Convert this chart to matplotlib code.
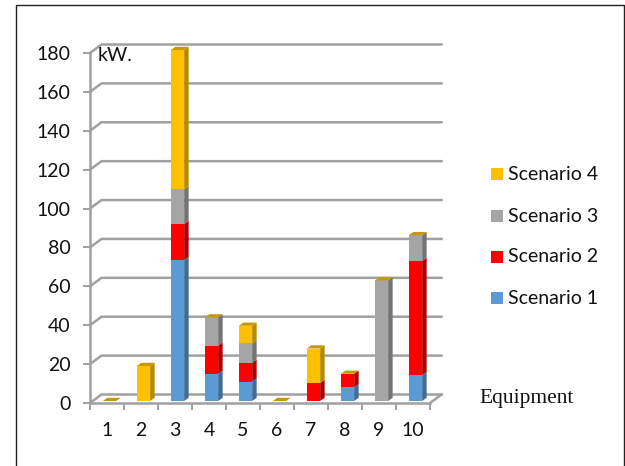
# Stacked pseudo-3D column chart: power per equipment for four scenarios

import matplotlib
matplotlib.use('Agg')
import matplotlib.pyplot as plt
from matplotlib.lines import Line2D
from matplotlib.patches import Polygon, Rectangle

plt.rcParams['font.family'] = ['Lato', 'DejaVu Sans']

# -------------------------------------------------------------
# DATA
# -------------------------------------------------------------
equipment = [1, 2, 3, 4, 5, 6, 7, 8, 9, 10]
scenario_1 = [0, 0, 72.5, 14, 10, 0, 0, 7, 0, 13.3]
scenario_2 = [0, 0, 18.5, 14.5, 9.7, 0, 9.3, 7, 0, 58.7]
scenario_3 = [0, 0, 18, 14.5, 10, 0, 0, 0, 62, 13.3]
scenario_4 = [0, 18, 71.5, 0, 9, 0, 17.7, 0, 0, 0]
y_ticks = [0, 20, 40, 60, 80, 100, 120, 140, 160, 180]

series = [scenario_1, scenario_2, scenario_3, scenario_4]
names = ['Scenario 1', 'Scenario 2', 'Scenario 3', 'Scenario 4']
colors = ['#5b9bd5', '#ff0000', '#a5a5a5', '#ffc000']
side_colors = ['#3e6d96', '#b00000', '#747474', '#b88a00']
top_color = '#c99700'
grid_color = '#a0a0a0'
text_color = '#111111'
font_size = 14

W, H = 625, 466
fig = plt.figure(figsize=(W / 100, H / 100), dpi=100)

# axes box is the front plane of the fake 3D plot, in pixels
left, right, top, bottom = 90, 430, 53, 403
ax = fig.add_axes([left / W, 1 - bottom / H, (right - left) / W, (bottom - top) / H])
ax.set_xlim(0.5, 10.5)
ax.set_ylim(0, 180)
ax.patch.set_alpha(0)

# pixel -> data unit helpers for the depth offsets
px_x = 10 / (right - left)
px_y = 180 / (bottom - top)

# -------------------------------------------------------------
# WALLS AND GRID
# -------------------------------------------------------------
back_dx, back_dy = 11.5 * px_x, 8.5 * px_y
for v in y_ticks:
    ax.plot([0.5, 0.5 + back_dx, 10.5 + back_dx], [v, v + back_dy, v + back_dy],
            color=grid_color, lw=1.8, clip_on=False, zorder=1, solid_joinstyle='miter')
ax.plot([10.5, 10.5 + back_dx], [0, back_dy], color=grid_color, lw=1.8,
        clip_on=False, zorder=1)

# -------------------------------------------------------------
# BARS
# -------------------------------------------------------------
bar_w = 13.3 * px_x
off_x, off_y = 2.5 * px_x, 2 * px_y
depth_x, depth_y = 4.5 * px_x, 3.2 * px_y

base = [off_y] * len(equipment)
for s, c, sc in zip(series, colors, side_colors):
    xs = [e + off_x for e in equipment]
    ax.bar(xs, s, width=bar_w, bottom=base, color=c, linewidth=0, zorder=3, clip_on=False)
    for x, b, v in zip(xs, base, s):
        if v > 0:
            xr = x + bar_w / 2
            ax.add_patch(Polygon([(xr, b), (xr + depth_x, b + depth_y),
                                  (xr + depth_x, b + v + depth_y), (xr, b + v)],
                                 closed=True, facecolor=sc, edgecolor='none',
                                 zorder=3, clip_on=False))
    base = [b + v for b, v in zip(base, s)]

# top face of every stack
for e, b in zip(equipment, base):
    xl = e + off_x - bar_w / 2
    ax.add_patch(Polygon([(xl, b), (xl + bar_w, b),
                          (xl + bar_w + depth_x, b + depth_y), (xl + depth_x, b + depth_y)],
                         closed=True, facecolor=top_color, edgecolor='none',
                         zorder=4, clip_on=False))

# -------------------------------------------------------------
# AXES AND TEXT
# -------------------------------------------------------------
for name in ['top', 'right']:
    ax.spines[name].set_visible(False)
for name in ['left', 'bottom']:
    ax.spines[name].set_color(grid_color)
    ax.spines[name].set_linewidth(1.8)
    ax.spines[name].set_zorder(2)

ax.set_yticks(y_ticks)
ax.set_xticks([e - 0.5 for e in equipment] + [10.5])
ax.set_xticklabels([])
ax.set_xticks(equipment, minor=True)
ax.set_xticklabels([str(e) for e in equipment], minor=True)
ax.tick_params(axis='x', which='major', length=5, width=1.4, color=grid_color)
ax.tick_params(axis='x', which='minor', length=0, pad=14, labelsize=font_size,
               labelcolor=text_color)
ax.tick_params(axis='y', length=5, width=1.4, color=grid_color, pad=9, labelsize=font_size,
               labelcolor=text_color)

ax.text(0.5 + 8 * px_x, 180 - 2 * px_y, 'kW.', fontsize=font_size, va='center',
        ha='left', color=text_color, zorder=5)

fig.text(479 / W, 1 - 398 / H, 'Equipment', family='Liberation Serif', fontsize=15.5,
         va='center', ha='left', color=text_color)

# legend, drawn by hand to hold the spacing of the reference
legend_y = [298, 257, 216, 174]
for name, c, y in zip(names, colors, legend_y):
    fig.add_artist(Rectangle((491 / W, 1 - (y + 6) / H), 12 / W, 12 / H, facecolor=c,
                             edgecolor='none', transform=fig.transFigure))
    fig.text(508 / W, 1 - y / H, name, fontsize=font_size, va='center', ha='left',
             color=text_color)

# outer frame, open at the bottom
fig.add_artist(Line2D([15.5 / W, 15.5 / W, 623.5 / W, 623.5 / W], [0, 1 - 5 / H, 1 - 5 / H, 0],
                      color='#222222', lw=1.0, transform=fig.transFigure))

fig.savefig('out.png', dpi=100)
